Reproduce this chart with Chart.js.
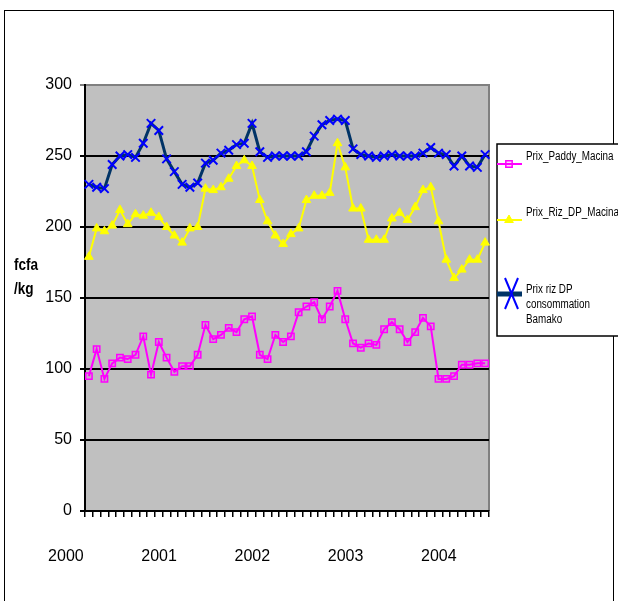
<!DOCTYPE html>
<html lang="fr">
<head>
    <meta charset="UTF-8">
    <title>Prix du riz</title>
    <script src="https://cdn.jsdelivr.net/npm/chart.js"></script>
    <style>
        body {
            margin: 0;
            padding: 0;
            background-color: white;
            font-family: "Liberation Sans", Arial, sans-serif;
        }
        .frame {
            position: absolute;
            left: 4px;
            top: 10px;
            width: 608px;
            height: 600px;
            border: 1px solid #000;
        }
        .chart-container {
            position: absolute;
            left: 0;
            top: 0;
        }
    </style>
</head>
<body>
    <div class="frame"></div>
    <div class="chart-container">
        <canvas id="prixChart" width="618" height="601"></canvas>
    </div>

    <script>
        // données mensuelles, janv. 2000 -> avr. 2004
        const years = ['2000', '2001', '2002', '2003', '2004'];
        const months = [];
        years.forEach(y => {
            for (let m = 1; m <= 12; m++) months.push(y + '-' + String(m).padStart(2, '0'));
        });
        months.length = 52;

        const paddyMacina = [95, 114, 93, 104, 108, 107, 110, 123, 96, 119, 108, 98, 102, 102, 110, 131, 121, 124, 129, 126, 135, 137, 110, 107, 124, 119, 123, 140, 144, 147, 135, 144, 155, 135, 118, 115, 118, 117, 128, 133, 128, 119, 126, 136, 130, 93, 93, 95, 103, 103, 104, 104];
        const rizDpMacina = [179, 199, 197, 201, 212, 202, 209, 208, 210, 207, 200, 194, 189, 199, 200, 227, 226, 228, 234, 243, 247, 243, 219, 204, 194, 188, 195, 199, 219, 222, 222, 224, 259, 242, 213, 213, 191, 191, 191, 206, 210, 205, 214, 226, 228, 204, 177, 164, 170, 177, 177, 189];
        const rizDpBamako = [230, 228, 227, 244, 250, 251, 249, 259, 273, 268, 248, 239, 230, 228, 231, 245, 247, 252, 254, 258, 259, 273, 253, 249, 250, 250, 250, 250, 253, 264, 272, 275, 276, 275, 255, 251, 250, 249, 250, 251, 250, 250, 250, 252, 256, 252, 251, 243, 250, 243, 242, 251];

        const yTitle = ['fcfa', '/kg'];
        const FONT = '"Liberation Sans", Arial, sans-serif';

        // fond gris de la zone de tracé
        const plotBg = {
            id: 'plotBg',
            beforeDraw(chart) {
                const { ctx, chartArea: a } = chart;
                ctx.save();
                ctx.fillStyle = '#c0c0c0';
                ctx.fillRect(a.left, a.top, a.right - a.left, a.bottom - a.top);
                ctx.strokeStyle = '#808080';
                ctx.lineWidth = 2;
                ctx.beginPath();
                ctx.moveTo(a.left, a.top);
                ctx.lineTo(a.right, a.top);
                ctx.lineTo(a.right, a.bottom);
                ctx.stroke();
                ctx.restore();
            }
        };

        // texte un peu condensé (comme Arial Narrow)
        function narrowText(ctx, txt, x, y, sx) {
            ctx.save();
            ctx.translate(x, y);
            ctx.scale(sx, 1);
            ctx.fillText(txt, 0, 0);
            ctx.restore();
        }

        // légende à droite + titre de l'axe Y
        const sideLegend = {
            id: 'sideLegend',
            afterDraw(chart) {
                const ctx = chart.ctx;
                ctx.save();
                ctx.fillStyle = '#000';
                ctx.font = 'bold 16px ' + FONT;
                ctx.textBaseline = 'middle';
                ctx.textAlign = 'left';
                narrowText(ctx, yTitle[0], 14, 266, 0.85);
                narrowText(ctx, yTitle[1], 14, 290, 0.85);

                const box = { left: 497, top: 144, right: 640, bottom: 336 };
                ctx.fillStyle = '#fff';
                ctx.fillRect(box.left, box.top, box.right - box.left, box.bottom - box.top);
                ctx.strokeStyle = '#000';
                ctx.lineWidth = 1.5;
                ctx.strokeRect(box.left, box.top, box.right - box.left, box.bottom - box.top);

                const rows = [
                    { lineY: 164, textY: 160 },
                    { lineY: 220, textY: 216 },
                    { lineY: 294, textY: 293 }
                ];
                ctx.font = '12px ' + FONT;
                ctx.textBaseline = 'alphabetic';
                chart.data.datasets.forEach((ds, i) => {
                    const r = rows[i];
                    ctx.strokeStyle = ds.borderColor;
                    ctx.lineWidth = i === 2 ? 5 : ds.borderWidth;
                    ctx.beginPath();
                    ctx.moveTo(497, r.lineY);
                    ctx.lineTo(522, r.lineY);
                    ctx.stroke();
                    if (i === 2) {
                        ctx.strokeStyle = ds.pointBorderColor;
                        ctx.lineWidth = 2;
                        ctx.beginPath();
                        ctx.moveTo(505, r.lineY - 16); ctx.lineTo(518, r.lineY + 15);
                        ctx.moveTo(518, r.lineY - 16); ctx.lineTo(505, r.lineY + 15);
                        ctx.stroke();
                    } else {
                        ctx.fillStyle = ds.pointBackgroundColor;
                        ctx.strokeStyle = ds.pointBorderColor;
                        ctx.lineWidth = ds.pointBorderWidth;
                        Chart.helpers.drawPoint(ctx, {
                            pointStyle: ds.pointStyle,
                            radius: ds.pointRadius,
                            borderWidth: ds.pointBorderWidth
                        }, 509, r.lineY);
                    }
                    // retour à la ligne simple
                    const words = ds.label.split(' ');
                    const lines = [];
                    let cur = '';
                    words.forEach(w => {
                        const t = cur ? cur + ' ' + w : w;
                        if (cur && ctx.measureText(t).width * 0.82 > 80) { lines.push(cur); cur = w; }
                        else cur = t;
                    });
                    lines.push(cur);
                    ctx.fillStyle = '#000';
                    lines.forEach((l, k) => narrowText(ctx, l, 526, r.textY + k * 15, 0.82));
                });
                ctx.restore();
            }
        };

        const ctx = document.getElementById('prixChart').getContext('2d');
        new Chart(ctx, {
            type: 'line',
            data: {
                labels: months,
                datasets: [
                    {
                        label: 'Prix_Paddy_Macina',
                        data: paddyMacina,
                        borderColor: '#ff00ff',
                        borderWidth: 2,
                        pointStyle: 'rect',
                        pointRadius: 4.5,
                        pointBorderWidth: 1.5,
                        pointBorderColor: '#ff00ff',
                        pointBackgroundColor: 'rgba(255,0,255,0.15)',
                        tension: 0
                    },
                    {
                        label: 'Prix_Riz_DP_Macina',
                        data: rizDpMacina,
                        borderColor: '#ffff00',
                        borderWidth: 2,
                        pointStyle: 'triangle',
                        pointRadius: 5,
                        pointBorderWidth: 1,
                        pointBorderColor: '#ffff00',
                        pointBackgroundColor: '#ffff00',
                        tension: 0
                    },
                    {
                        label: 'Prix riz DP consommation Bamako',
                        data: rizDpBamako,
                        borderColor: '#003366',
                        borderWidth: 3,
                        pointStyle: 'crossRot',
                        pointRadius: 6,
                        pointBorderWidth: 2,
                        pointBorderColor: '#0000ff',
                        pointBackgroundColor: '#0000ff',
                        tension: 0
                    }
                ]
            },
            options: {
                responsive: false,
                animation: false,
                layout: { padding: { top: 85, right: 129, left: 0, bottom: 0 } },
                plugins: {
                    legend: { display: false },
                    tooltip: { enabled: false }
                },
                scales: {
                    x: {
                        offset: true,
                        grid: {
                            offset: true,
                            drawOnChartArea: false,
                            drawTicks: true,
                            tickLength: 6,
                            color: '#000',
                            lineWidth: 1.5
                        },
                        border: { color: '#000', width: 2 },
                        ticks: {
                            autoSkip: false,
                            maxRotation: 0,
                            padding: 30,
                            labelOffset: -23,
                            color: '#000',
                            font: { family: FONT, size: 16 },
                            callback: function (v, i) {
                                return i % 12 === 0 ? this.getLabelForValue(v).slice(0, 4) : '';
                            }
                        },
                        afterFit(s) { s.height = 90; }
                    },
                    y: {
                        min: 0,
                        max: 300,
                        ticks: {
                            stepSize: 50,
                            padding: 8,
                            color: '#000',
                            font: { family: FONT, size: 16 }
                        },
                        grid: {
                            color: c => (c.tick && c.tick.value === 300 ? '#808080' : '#000'),
                            lineWidth: 2,
                            tickLength: 5
                        },
                        border: { color: '#000', width: 2 },
                        afterFit(s) { s.width = 85; }
                    }
                }
            },
            plugins: [plotBg, sideLegend]
        });
    </script>
</body>
</html>
